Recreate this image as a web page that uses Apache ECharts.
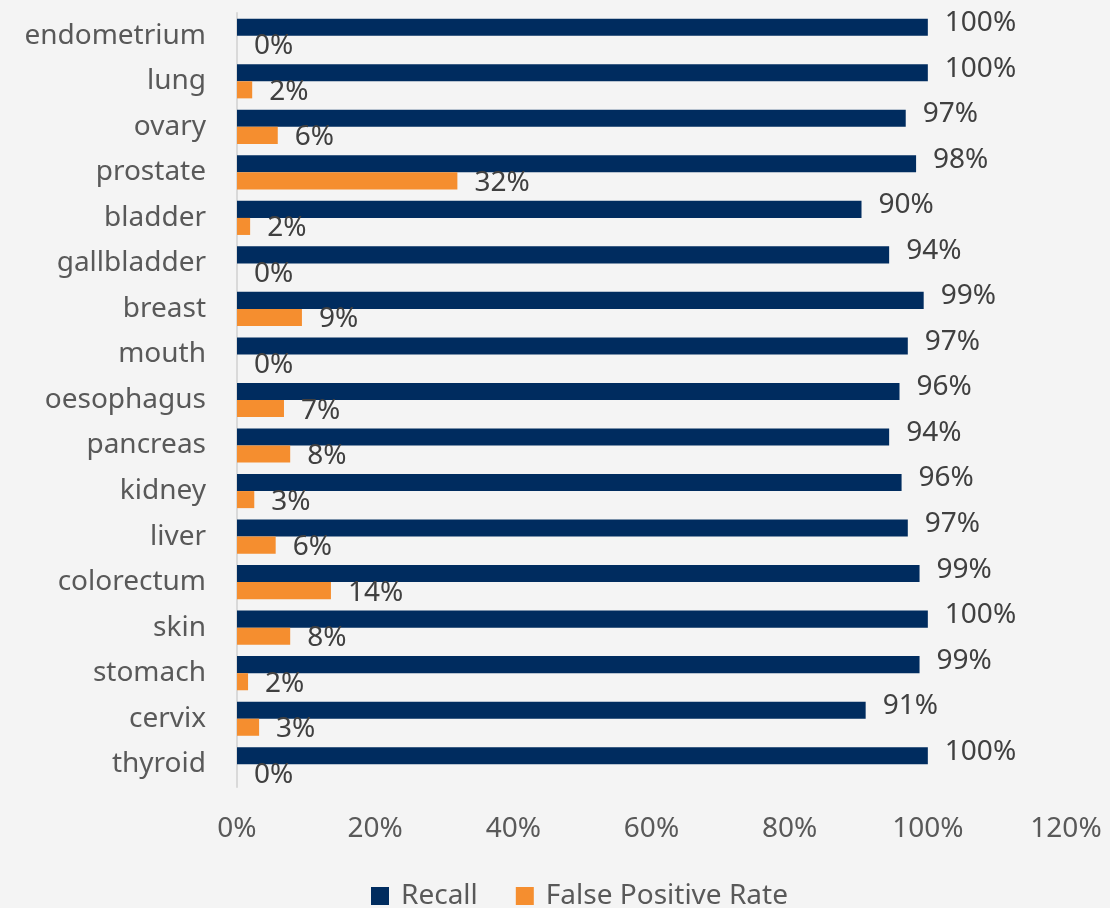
<!DOCTYPE html>
<html>
<head>
<meta charset="utf-8">
<script src="https://cdn.jsdelivr.net/npm/echarts@6/dist/echarts.min.js"></script>
<style>
  html, body { margin: 0; padding: 0; background: #f4f4f4; }
  #chart { width: 1110px; height: 908px; }
</style>
</head>
<body>
<div id="chart"></div>
<script>
// categories, top to bottom
const categories = ['endometrium', 'lung', 'ovary', 'prostate', 'bladder', 'gallbladder', 'breast', 'mouth',
  'oesophagus', 'pancreas', 'kidney', 'liver', 'colorectum', 'skin', 'stomach', 'cervix', 'thyroid'];
// values in %
const recall = [100, 100, 96.8, 98.3, 90.4, 94.4, 99.4, 97.1, 95.9, 94.4, 96.2, 97.1, 98.8, 100, 98.8, 91.0, 100];
const falsePositiveRate = [0, 2.2, 5.9, 31.9, 1.9, 0, 9.4, 0, 6.8, 7.7, 2.5, 5.6, 13.6, 7.7, 1.6, 3.2, 0];
const xTicks = { min: 0, max: 120, interval: 20 };

const FONT = '"Noto Sans", sans-serif';
const chart = echarts.init(document.getElementById('chart'));

const pctLabel = p => Math.round(p.value) + '%';

chart.setOption({
  backgroundColor: '#f4f4f4',
  animation: false,
  textStyle: { fontFamily: FONT },
  grid: { left: 237, right: 44, top: 13, bottom: 121 },
  legend: {
    data: ['Recall', 'False Positive Rate'],
    left: 366,
    top: 877,
    icon: 'rect',
    itemWidth: 18,
    itemHeight: 18,
    itemGap: 38,
    textStyle: { color: '#595959', fontSize: 28, fontFamily: FONT, padding: [0, 0, 0, 7] }
  },
  xAxis: {
    type: 'value',
    min: xTicks.min,
    max: xTicks.max,
    interval: xTicks.interval,
    axisLine: { show: false },
    axisTick: { show: false },
    splitLine: { show: false },
    axisLabel: { color: '#595959', fontSize: 28, fontFamily: FONT, margin: 28, formatter: '{value}%' }
  },
  yAxis: {
    type: 'category',
    data: categories,
    inverse: true,
    axisLine: { show: true, lineStyle: { color: '#d9d9d9', width: 2 } },
    axisTick: { show: false },
    axisLabel: { color: '#595959', fontSize: 28, fontFamily: FONT, margin: 31 }
  },
  series: [
    {
      name: 'Recall',
      type: 'bar',
      data: recall,
      barGap: '0%',
      barCategoryGap: '25%',
      itemStyle: { color: '#002c5f' },
      label: {
        show: true, position: 'right', distance: 17, offset: [0, -4],
        color: '#404040', fontSize: 28, fontFamily: FONT, formatter: pctLabel
      }
    },
    {
      name: 'False Positive Rate',
      type: 'bar',
      data: falsePositiveRate,
      barGap: '0%',
      barCategoryGap: '25%',
      itemStyle: { color: '#f58e2f' },
      label: {
        show: true, position: 'right', distance: 17, offset: [0, 2],
        color: '#404040', fontSize: 28, fontFamily: FONT, formatter: pctLabel
      }
    }
  ]
});
</script>
</body>
</html>
